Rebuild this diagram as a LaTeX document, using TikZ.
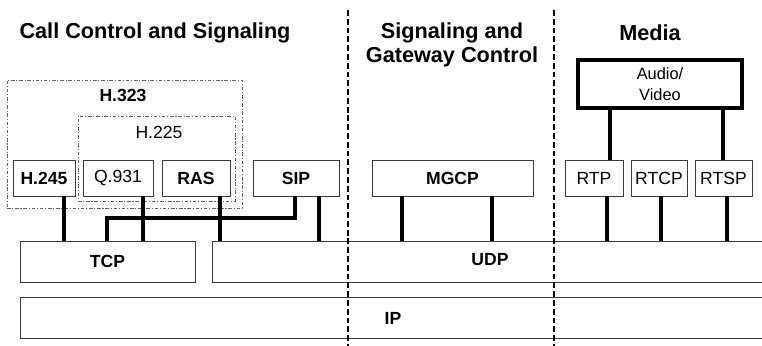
\documentclass[tikz,border=0pt]{standalone}
\usepackage{fontspec}
\setmainfont{Liberation Sans}
\usetikzlibrary{positioning}
\definecolor{lineg}{RGB}{60,60,60}

\begin{document}
\begin{tikzpicture}[x=0.03cm, y=-0.03cm,
    heading/.style={font=\fontsize{18.5}{21}\selectfont\bfseries, align=center},
    proto/.style={draw=lineg, line width=0.8pt, inner sep=0pt, minimum height=1.08cm, font=\fontsize{15}{17}\selectfont},
    protob/.style={proto, font=\fontsize{15}{17}\selectfont\bfseries},
    layer/.style={draw=lineg, line width=0.8pt, inner sep=0pt, minimum height=1.23cm, font=\fontsize{15}{17}\selectfont\bfseries},
    lbl/.style={font=\fontsize{15}{17}\selectfont\bfseries},
    group/.style={draw=lineg!80, line width=0.6pt, dash pattern=on 3pt off 1.5pt on 1pt off 1.5pt, inner sep=0pt},
    media/.style={draw=black, line width=2.6pt, inner sep=0pt, align=center, font=\fontsize{14}{18}\selectfont},
    link/.style={line width=3pt, color=black},
    divider/.style={line width=1.3pt, dash pattern=on 5pt off 2.5pt}
]
    \useasboundingbox (0,0) rectangle (762,346);
    \clip (0,0) rectangle (762,346);

    % column headings
    \node[heading, name=hcall] at(155,33) {Call Control and Signaling};
    \node[heading, name=hgw] at(452,45) {Signaling and\\Gateway Control};
    \node[heading, name=hmedia] at(650,33) {Media};

    % H.323 / H.225 groups
    \node[group, minimum width=7.05cm, minimum height=3.84cm, name=H323] at(124.5,144) {};
    \node[lbl, name=H323lbl] at(123,95) {H.323};
    \node[group, minimum width=4.71cm, minimum height=2.55cm, name=H225] at(156.5,158.5) {};
    \node[font=\fontsize{15}{17}\selectfont, name=H225lbl] at(159,132) {H.225};

    % protocols
    \node[protob, minimum width=1.86cm, name=H245] at(44,178) {H.245};
    \node[proto, minimum width=2.1cm, name=Q931] at(118,178) {Q.931};
    \node[protob, minimum width=2.04cm, name=RAS] at(196,178) {RAS};
    \node[protob, minimum width=2.58cm, name=SIP] at(296,178) {SIP};
    \node[protob, minimum width=4.83cm, name=MGCP] at(452.5,178) {MGCP};
    \node[proto, minimum width=1.74cm, name=RTP] at(594,178) {RTP};
    \node[proto, minimum width=1.68cm, name=RTCP] at(659,178) {RTCP};
    \node[proto, minimum width=1.71cm, name=RTSP] at(723.5,178) {RTSP};
    \node[media, minimum width=4.92cm, minimum height=1.44cm, name=AV] at(660,84) {Audio/\\Video};

    % transport and network layers
    \node[layer, minimum width=5.25cm, name=TCP] at(107.5,261.5) {TCP};
    \node[layer, minimum width=17.34cm, name=UDP] at(501,261.5) {};
    \node[layer, minimum width=23.1cm, name=IP] at(405,317.5) {};
    \node[lbl, name=UDPtxt] at(490,260) {UDP};
    \node[lbl, name=IPtxt] at(393,318) {IP};

    % dividers
    \coordinate (d1top) at (348,10);
    \coordinate (d1bot) at (348,346);
    \coordinate (d2top) at (554,10);
    \coordinate (d2bot) at (554,346);
    \draw[divider] (d1top) -- (d1bot);
    \draw[divider] (d2top) -- (d2bot);

    % connectors
    \draw[link] (64,0 |- H245.south) -- (64,0 |- TCP.north);
    \draw[link] (143,0 |- Q931.south) -- (143,0 |- TCP.north);
    \draw[link] (220,0 |- RAS.south) -- (220,0 |- UDP.north);
    \draw[link] (295,0 |- SIP.south) |- (107,218) -- (107,0 |- TCP.north);
    \draw[link] (319,0 |- SIP.south) -- (319,0 |- UDP.north);
    \draw[link] (402,0 |- MGCP.south) -- (402,0 |- UDP.north);
    \draw[link] (492,0 |- MGCP.south) -- (492,0 |- UDP.north);
    \draw[link] (607,0 |- RTP.south) -- (607,0 |- UDP.north);
    \draw[link] (661,0 |- RTCP.south) -- (661,0 |- UDP.north);
    \draw[link] (727,0 |- RTSP.south) -- (727,0 |- UDP.north);
    \draw[link] (610,0 |- AV.south) -- (610,0 |- RTP.north);
    \draw[link] (723,0 |- AV.south) -- (723,0 |- RTSP.north);
\end{tikzpicture}
\end{document}
